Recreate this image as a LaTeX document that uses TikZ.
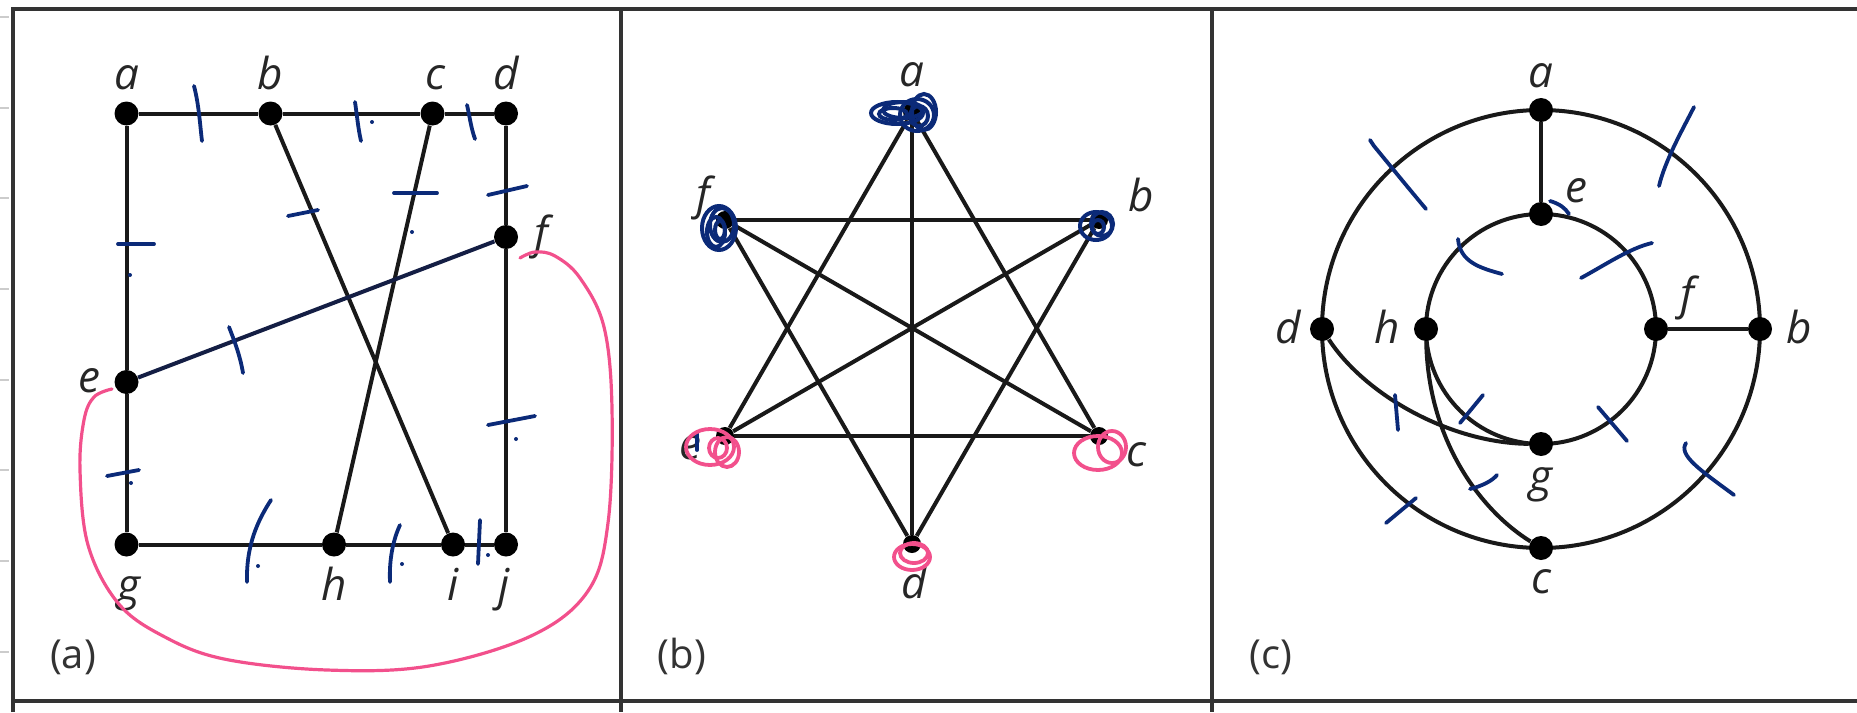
\documentclass[tikz,border=0pt]{standalone}
\usepackage{fontspec}
\setmainfont{Open Sans}
\definecolor{inkblue}{HTML}{0B2A78}
\definecolor{inkdark}{HTML}{141E44}
\definecolor{inkpink}{HTML}{F2508C}
\tikzset{
 vtx/.style={circle,fill=black,inner sep=0pt,minimum size=12pt},
 svtx/.style={circle,fill=black,inner sep=0pt,minimum size=9pt},
 edge/.style={line width=2pt,draw=black!90},
 lab/.style={font=\fontsize{22}{22}\selectfont\itshape,inner sep=0pt,anchor=base,text=black!85},
 plab/.style={font=\fontsize{20}{20}\selectfont,inner sep=0pt,anchor=base,text=black!80},
 frame/.style={line width=1.8pt,draw=black!80},
 tick/.style={line width=1.9pt,draw=inkblue,line cap=round},
 scrib/.style={line width=2pt,draw=inkblue},
 pscrib/.style={line width=1.9pt,draw=inkpink},
 pinkline/.style={line width=1.6pt,draw=inkpink,line cap=round},
 margin/.style={line width=1pt,draw=black!20}
}
\begin{document}
\begin{tikzpicture}[x=0.5pt,y=-0.5pt]
\useasboundingbox (0,0) rectangle (1857,712);
% frame
\draw[frame] (13,712) -- (13,9) -- (1857,9);
\draw[frame] (13,701) -- (1857,701);
\draw[frame] (621,9) -- (621,712);
\draw[frame] (1212,9) -- (1212,712);
\foreach \yy in {17,108,198,289,380,470,561,652} \draw[margin] (0,\yy) -- (9,\yy);

% ---------------- panel (a)
\node[vtx] (Aa) at (126.5,113.5) {};
\node[vtx] (Ab) at (270.5,113.5) {};
\node[vtx] (Ac) at (432.5,113.5) {};
\node[vtx] (Ad) at (506,113.5) {};
\node[vtx] (Af) at (506,237) {};
\node[vtx] (Ae) at (126.5,382) {};
\node[vtx] (Ag) at (126.5,544.5) {};
\node[vtx] (Ah) at (334,544.5) {};
\node[vtx] (Ai) at (453,544.5) {};
\node[vtx] (Aj) at (506,544.5) {};
\draw[edge] (Aa) -- (Ab);
\draw[edge] (Ab) -- (Ac);
\draw[edge] (Ac) -- (Ad);
\draw[edge] (Ad) -- (Af);
\draw[edge] (Af) -- (Aj);
\draw[edge] (Aj) -- (Ai);
\draw[edge] (Ai) -- (Ah);
\draw[edge] (Ah) -- (Ag);
\draw[edge] (Ag) -- (Ae);
\draw[edge] (Ae) -- (Aa);
\draw[edge] (Ab) -- (Ai);
\draw[edge] (Ac) -- (Ah);
\draw[edge,draw=inkdark] (Ae) -- (Af);
\node[lab] (LAa) at (126.5,89) {a};
\node[lab] (LAb) at (270,89) {b};
\node[lab] (LAc) at (435,89) {c};
\node[lab] (LAd) at (506,89) {d};
\node[lab,anchor=base east] (LAe) at (101,392) {e};
\node[lab] (LAf) at (541,248) {f};
\node[lab] (LAg) at (129,600) {g};
\node[lab] (LAh) at (334,600) {h};
\node[lab] (LAi) at (453,600) {i};
\node[lab] (LAj) at (504,600) {j};
\node[plab] (Pa) at (73,668) {(a)};
% pink curve
\draw[pinkline] plot[smooth,tension=0.6] coordinates {(112,389) (94,397) (84,420) (80,470) (88,545) (118,603) (163,636) (224,659) (327,670) (429,666) (531,636) (588,591) (608,523) (612,409) (604,327) (580,278) (555,256) (535,252) (520,258)};
% blue ticks (a)
\draw[tick] (194,86) .. controls (199,105) and (200,125) .. (202,141);
\draw[tick] (355,102) .. controls (357,115) and (358,128) .. (361,141);
\fill[inkblue] (372,122) circle[radius=2];
\draw[tick] (467,105) .. controls (470,118) and (471,128) .. (475,139);
\draw[tick] (288,216) -- (318,210);
\draw[tick] (394,193) -- (437,193);
\fill[inkblue] (412,232) circle[radius=2];
\draw[tick] (488,195) -- (527,186);
\draw[tick] (118,244) -- (154,244);
\fill[inkblue] (130,275) circle[radius=2];
\draw[tick] (229,327) .. controls (234,340) and (240,355) .. (243,373);
\draw[tick] (107,476) -- (139,470);
\fill[inkblue] (131,483) circle[radius=2];
\draw[tick] (488,425) -- (535,416);
\fill[inkblue] (516,439) circle[radius=2];
\draw[tick] (271,500) .. controls (258,520) and (246,545) .. (247,582);
\fill[inkblue] (258,566) circle[radius=2];
\draw[tick] (400,525) .. controls (393,540) and (389,560) .. (390,582);
\fill[inkblue] (402,564) circle[radius=2];
\draw[tick] (480,520) -- (478,564);
\fill[inkblue] (488,555) circle[radius=2];

% ---------------- panel (b)
\node[svtx] (Ba) at (912,112) {};
\node[svtx] (Bb) at (1099,220) {};
\node[svtx] (Bc) at (1099,436) {};
\node[svtx] (Bd) at (912,544) {};
\node[svtx] (Be) at (725,436) {};
\node[svtx] (Bf) at (725,220) {};
\draw[edge] (Ba) -- (Bc);
\draw[edge] (Bc) -- (Be);
\draw[edge] (Be) -- (Ba);
\draw[edge] (Bf) -- (Bb);
\draw[edge] (Bb) -- (Bd);
\draw[edge] (Bd) -- (Bf);
\draw[edge] (Ba) -- (Bd);
\draw[edge] (Bf) -- (Bc);
\draw[edge] (Bb) -- (Be);
\node[lab] (LBa) at (912,86) {a};
\node[lab] (LBf) at (703,209) {f};
\node[lab] (LBb) at (1141,211) {b};
\node[lab] (LBe) at (690,459) {e};
\node[lab] (LBc) at (1136,466) {c};
\node[lab] (LBd) at (914,598) {d};
\node[plab] (Pb) at (682,668) {(b)};
% scribbles
\draw[scrib] (897,113) ellipse[x radius=26,y radius=11];
\draw[scrib] (917,115) ellipse[x radius=17,y radius=16];
\draw[scrib] (903,110) ellipse[x radius=20,y radius=8];
\draw[scrib] (924,112) ellipse[x radius=12,y radius=18];
\draw[scrib] (893,114) ellipse[x radius=14,y radius=6];
\draw[scrib] (919,116) ellipse[x radius=9,y radius=10];
\draw[scrib] (719,228) ellipse[x radius=17,y radius=22];
\draw[scrib] (722,225) ellipse[x radius=12,y radius=17];
\draw[scrib] (716,232) ellipse[x radius=9,y radius=15];
\draw[scrib] (720,230) ellipse[x radius=5,y radius=9];
\draw[scrib] (1096,226) ellipse[x radius=16,y radius=14];
\draw[scrib] (1102,224) ellipse[x radius=11,y radius=12];
\draw[scrib] (1098,227) ellipse[x radius=6,y radius=7];
\draw[tick] (697,434) -- (697,450);
\draw[pscrib] (710,447) ellipse[x radius=24,y radius=18];
\draw[pscrib] (727,452) ellipse[x radius=12,y radius=15];
\draw[pscrib] (718,448) ellipse[x radius=9,y radius=10];
\draw[pscrib] (1098,453) ellipse[x radius=24,y radius=17];
\draw[pscrib] (1112,447) ellipse[x radius=14,y radius=16];
\draw[pscrib] (912,557) ellipse[x radius=18,y radius=13];
\draw[pscrib] (914,553) ellipse[x radius=14,y radius=10];

% ---------------- panel (c)
\draw[edge] (1541,329) circle[radius=219];
\draw[edge] (1541,329) circle[radius=115];
\node[vtx] (Ca) at (1541,110) {};
\node[vtx] (Cc) at (1541,548) {};
\node[vtx] (Cd) at (1322,329) {};
\node[vtx] (Cb) at (1760,329) {};
\node[vtx] (Ce) at (1541,214) {};
\node[vtx] (Cg) at (1541,444) {};
\node[vtx] (Ch) at (1426,329) {};
\node[vtx] (Cf) at (1656,329) {};
\draw[edge] (Ca) -- (Ce);
\draw[edge] (Cf) -- (Cb);
\draw[edge] (Cd) .. controls (1365,395) and (1450,443) .. (Cg);
\draw[edge] (Ch) .. controls (1428,440) and (1480,510) .. (Cc);
\node[lab] (LCa) at (1541,87) {a};
\node[lab] (LCe) at (1576,202) {e};
\node[lab] (LCf) at (1687,309) {f};
\node[lab] (LCd) at (1288,343) {d};
\node[lab] (LCh) at (1387,343) {h};
\node[lab] (LCb) at (1799,343) {b};
\node[lab] (LCg) at (1541,491) {g};
\node[lab] (LCc) at (1541,593) {c};
\node[plab] (Pc) at (1271,668) {(c)};
% blue ticks (c)
\draw[tick] (1370,140) -- (1374,146) .. controls (1392,168) and (1410,190) .. (1426,209);
\draw[tick] (1694,107) .. controls (1685,125) and (1665,160) .. (1659,186);
\draw[tick] (1458,239) .. controls (1460,262) and (1480,268) .. (1502,274);
\draw[tick] (1581,278) .. controls (1605,265) and (1630,248) .. (1652,243);
\draw[tick] (1550,201) .. controls (1560,204) and (1565,208) .. (1569,214);
\draw[tick] (1395,395) -- (1398,430);
\draw[tick] (1460,423) -- (1483,395);
\draw[tick] (1598,407) -- (1627,441);
\draw[tick] (1686,443) .. controls (1678,455) and (1700,470) .. (1734,495);
\draw[tick] (1470,489) .. controls (1482,486) and (1492,481) .. (1497,475);
\draw[tick] (1386,523) -- (1416,498);
\end{tikzpicture}
\end{document}
